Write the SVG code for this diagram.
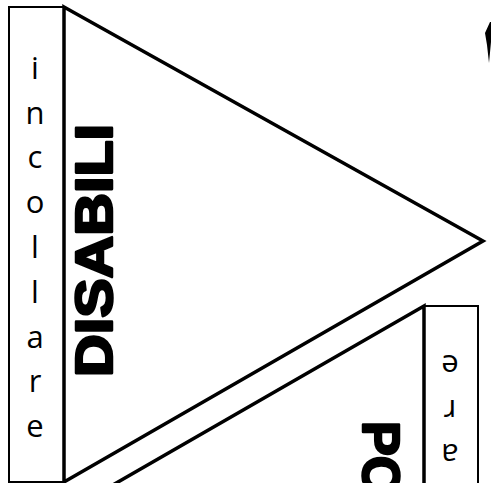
<svg xmlns="http://www.w3.org/2000/svg" width="491" height="483" viewBox="0 0 491 483">
<style>
.rect{fill:none;stroke:#000;stroke-width:2}
.tri{fill:none;stroke:#000;stroke-width:3.5;stroke-linejoin:miter}
.lab{font-family:"Open Sans","Liberation Sans",sans-serif;font-size:31px;fill:#000;text-anchor:middle}
.big{font-family:"Liberation Sans",Arial,sans-serif;font-weight:bold;font-size:52px;fill:#000;stroke:#000;stroke-width:2.5;stroke-linejoin:round}
</style>
<rect width="491" height="483" fill="#fff"/>
<g id="piece1">
<rect class="rect" x="9" y="7" width="55" height="475"/>
<polygon class="tri" points="64,7 483,241 64,482"/>
<g id="incollare1">
<text class="lab" x="35" y="79">i</text>
<text class="lab" x="35" y="124">n</text>
<text class="lab" x="35" y="168">c</text>
<text class="lab" x="35" y="213">o</text>
<text class="lab" x="35" y="258">l</text>
<text class="lab" x="35" y="303">l</text>
<text class="lab" x="35" y="348">a</text>
<text class="lab" x="35" y="392">r</text>
<text class="lab" x="35" y="437">e</text>
</g>
<text class="big" transform="translate(112,377) rotate(-90)" textLength="253" lengthAdjust="spacingAndGlyphs">DISABILI</text>
</g>
<g id="piece2">
<rect class="rect" x="424" y="306" width="54" height="480"/>
<polygon class="tri" points="424,306 5,547 424,781"/>
<g id="incollare2">
<text class="lab" transform="translate(450,355) rotate(180)">e</text>
<text class="lab" transform="translate(450,400) rotate(180)">r</text>
<text class="lab" transform="translate(450,444) rotate(180)">a</text>
</g>
<text class="big" transform="translate(363,421) rotate(90)">PO</text>
</g>
<g id="fragment">
<polygon points="485,33 490,22 491,22 491,42 489,63 487,45" fill="#000"/>
</g>
</svg>
